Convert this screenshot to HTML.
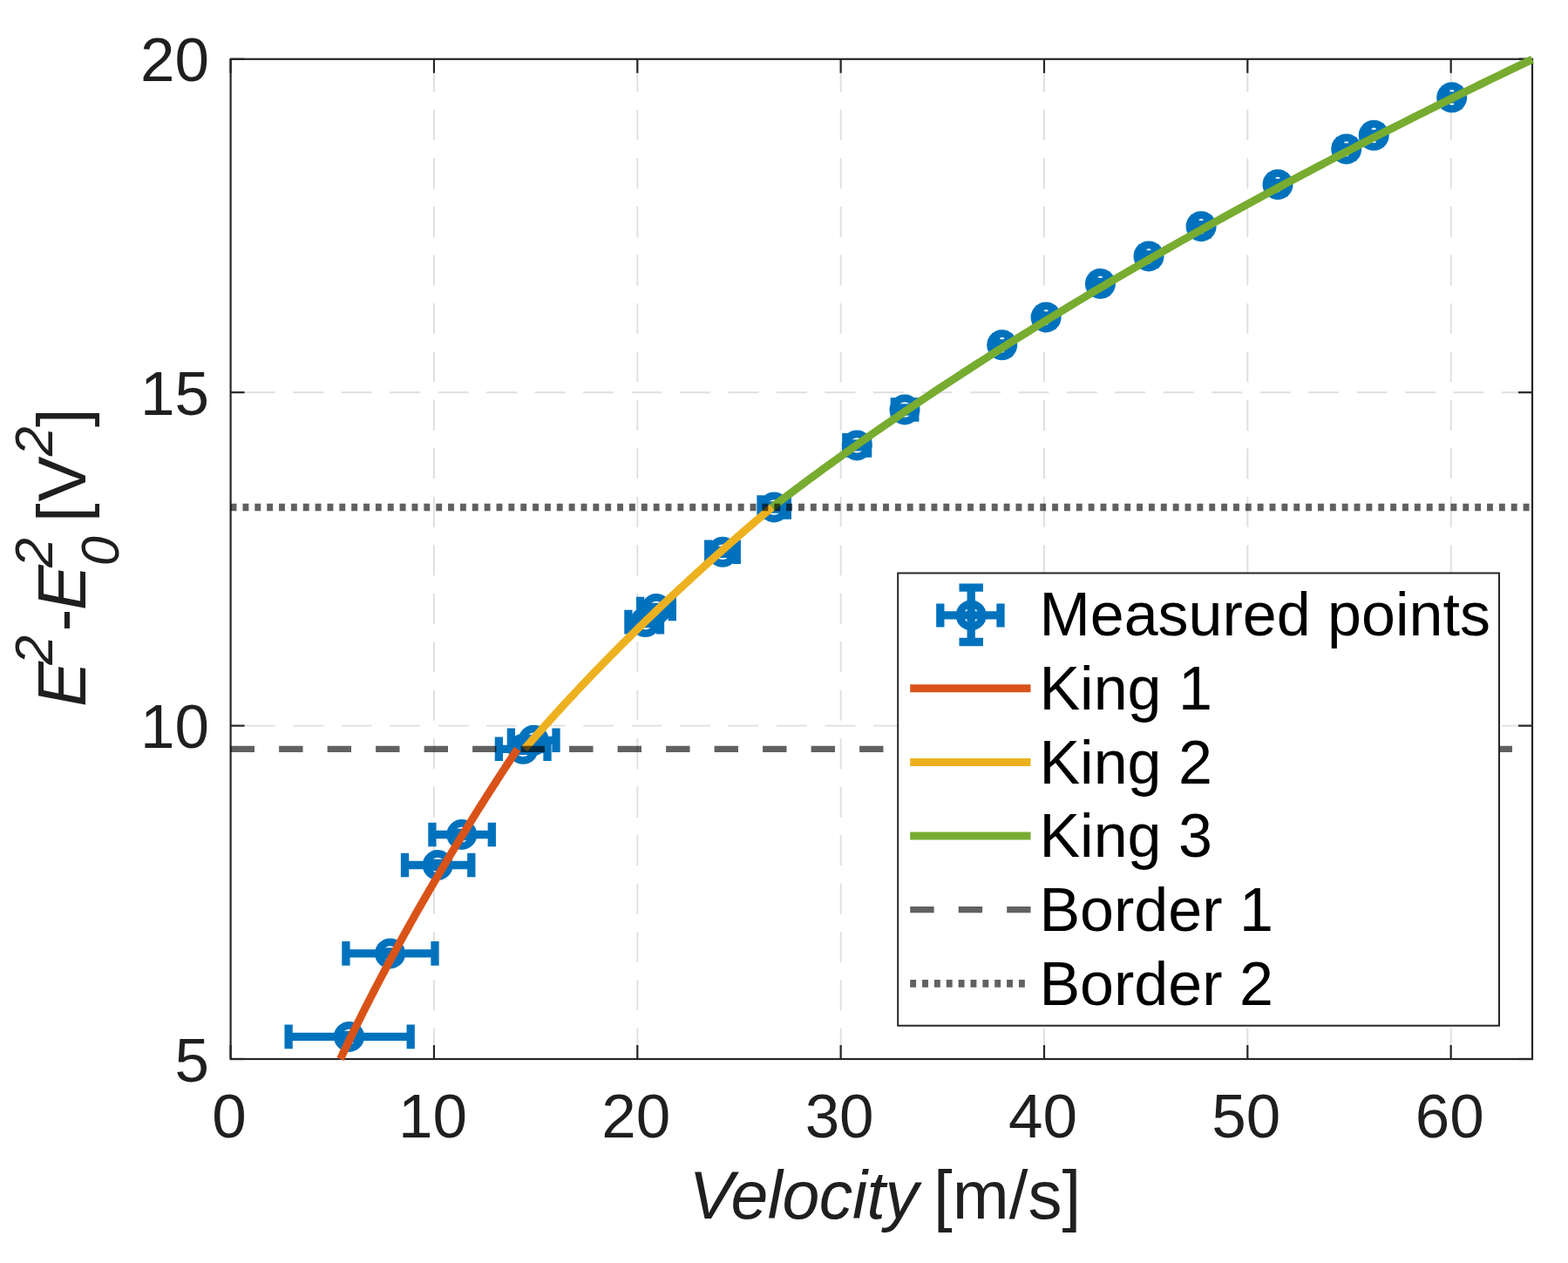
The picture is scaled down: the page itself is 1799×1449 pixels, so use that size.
<!DOCTYPE html>
<html><head><meta charset="utf-8"><title>King's law calibration</title>
<style>html,body{margin:0;padding:0;background:#fff;overflow:hidden}svg{display:block}</style>
</head><body>
<svg width="1799" height="1449" viewBox="0 0 1799 1449">
<rect width="1799" height="1449" fill="#fff"/>
<line x1="497.94" y1="1215.0" x2="497.94" y2="67.8" stroke="#dfdfdf" stroke-width="1.9" stroke-dasharray="35 20.47"/>
<line x1="731.29" y1="1215.0" x2="731.29" y2="67.8" stroke="#dfdfdf" stroke-width="1.9" stroke-dasharray="35 20.47"/>
<line x1="964.63" y1="1215.0" x2="964.63" y2="67.8" stroke="#dfdfdf" stroke-width="1.9" stroke-dasharray="35 20.47"/>
<line x1="1197.97" y1="1215.0" x2="1197.97" y2="67.8" stroke="#dfdfdf" stroke-width="1.9" stroke-dasharray="35 20.47"/>
<line x1="1431.32" y1="1215.0" x2="1431.32" y2="67.8" stroke="#dfdfdf" stroke-width="1.9" stroke-dasharray="35 20.47"/>
<line x1="1664.66" y1="1215.0" x2="1664.66" y2="67.8" stroke="#dfdfdf" stroke-width="1.9" stroke-dasharray="35 20.47"/>
<line x1="1758.0" y1="832.60" x2="264.6" y2="832.60" stroke="#dfdfdf" stroke-width="1.9" stroke-dasharray="35 20.47"/>
<line x1="1758.0" y1="450.20" x2="264.6" y2="450.20" stroke="#dfdfdf" stroke-width="1.9" stroke-dasharray="35 20.47"/>
<rect x="264.6" y="67.8" width="1493.40" height="1147.20" fill="none" stroke="#262626" stroke-width="2.2"/>
<line x1="264.60" y1="1215.0" x2="264.60" y2="1199.0" stroke="#262626" stroke-width="2.2"/>
<line x1="264.60" y1="67.8" x2="264.60" y2="83.8" stroke="#262626" stroke-width="2.2"/>
<line x1="497.94" y1="1215.0" x2="497.94" y2="1199.0" stroke="#262626" stroke-width="2.2"/>
<line x1="497.94" y1="67.8" x2="497.94" y2="83.8" stroke="#262626" stroke-width="2.2"/>
<line x1="731.29" y1="1215.0" x2="731.29" y2="1199.0" stroke="#262626" stroke-width="2.2"/>
<line x1="731.29" y1="67.8" x2="731.29" y2="83.8" stroke="#262626" stroke-width="2.2"/>
<line x1="964.63" y1="1215.0" x2="964.63" y2="1199.0" stroke="#262626" stroke-width="2.2"/>
<line x1="964.63" y1="67.8" x2="964.63" y2="83.8" stroke="#262626" stroke-width="2.2"/>
<line x1="1197.97" y1="1215.0" x2="1197.97" y2="1199.0" stroke="#262626" stroke-width="2.2"/>
<line x1="1197.97" y1="67.8" x2="1197.97" y2="83.8" stroke="#262626" stroke-width="2.2"/>
<line x1="1431.32" y1="1215.0" x2="1431.32" y2="1199.0" stroke="#262626" stroke-width="2.2"/>
<line x1="1431.32" y1="67.8" x2="1431.32" y2="83.8" stroke="#262626" stroke-width="2.2"/>
<line x1="1664.66" y1="1215.0" x2="1664.66" y2="1199.0" stroke="#262626" stroke-width="2.2"/>
<line x1="1664.66" y1="67.8" x2="1664.66" y2="83.8" stroke="#262626" stroke-width="2.2"/>
<line x1="264.6" y1="1215.00" x2="280.6" y2="1215.00" stroke="#262626" stroke-width="2.2"/>
<line x1="1758.0" y1="1215.00" x2="1742.0" y2="1215.00" stroke="#262626" stroke-width="2.2"/>
<line x1="264.6" y1="832.60" x2="280.6" y2="832.60" stroke="#262626" stroke-width="2.2"/>
<line x1="1758.0" y1="832.60" x2="1742.0" y2="832.60" stroke="#262626" stroke-width="2.2"/>
<line x1="264.6" y1="450.20" x2="280.6" y2="450.20" stroke="#262626" stroke-width="2.2"/>
<line x1="1758.0" y1="450.20" x2="1742.0" y2="450.20" stroke="#262626" stroke-width="2.2"/>
<line x1="264.6" y1="67.80" x2="280.6" y2="67.80" stroke="#262626" stroke-width="2.2"/>
<line x1="1758.0" y1="67.80" x2="1742.0" y2="67.80" stroke="#262626" stroke-width="2.2"/>
<text x="263.10" y="1305" font-family="Liberation Sans, Arial, Helvetica, sans-serif" font-size="71" fill="#1f1f1f" text-anchor="middle">0</text>
<text x="496.44" y="1305" font-family="Liberation Sans, Arial, Helvetica, sans-serif" font-size="71" fill="#1f1f1f" text-anchor="middle">10</text>
<text x="729.79" y="1305" font-family="Liberation Sans, Arial, Helvetica, sans-serif" font-size="71" fill="#1f1f1f" text-anchor="middle">20</text>
<text x="963.13" y="1305" font-family="Liberation Sans, Arial, Helvetica, sans-serif" font-size="71" fill="#1f1f1f" text-anchor="middle">30</text>
<text x="1196.47" y="1305" font-family="Liberation Sans, Arial, Helvetica, sans-serif" font-size="71" fill="#1f1f1f" text-anchor="middle">40</text>
<text x="1429.82" y="1305" font-family="Liberation Sans, Arial, Helvetica, sans-serif" font-size="71" fill="#1f1f1f" text-anchor="middle">50</text>
<text x="1663.16" y="1305" font-family="Liberation Sans, Arial, Helvetica, sans-serif" font-size="71" fill="#1f1f1f" text-anchor="middle">60</text>
<text x="240" y="1240.60" font-family="Liberation Sans, Arial, Helvetica, sans-serif" font-size="71" fill="#1f1f1f" text-anchor="end">5</text>
<text x="240" y="858.20" font-family="Liberation Sans, Arial, Helvetica, sans-serif" font-size="71" fill="#1f1f1f" text-anchor="end">10</text>
<text x="240" y="475.80" font-family="Liberation Sans, Arial, Helvetica, sans-serif" font-size="71" fill="#1f1f1f" text-anchor="end">15</text>
<text x="240" y="93.40" font-family="Liberation Sans, Arial, Helvetica, sans-serif" font-size="71" fill="#1f1f1f" text-anchor="end">20</text>
<path d="M331.1 1189.4H471.2M331.1 1175.6V1203.2M471.2 1175.6V1203.2M386.8 1187.4H414.2M386.8 1191.4H414.2M396.9 1093.9H499.0M396.9 1080.1V1107.7M499.0 1080.1V1107.7M433.9 1091.9H461.4M433.9 1095.9H461.4M464.5 992.5H540.8M464.5 978.7V1006.3M540.8 978.7V1006.3M488.4 990.5H516.0M488.4 994.5H516.0M495.9 957.5H564.3M495.9 943.7V971.3M564.3 943.7V971.3M516.0 955.5H543.5M516.0 959.5H543.5M572.4 859.3H628.0M572.4 845.5V873.1M628.0 845.5V873.1M586.5 857.3H614.0M586.5 861.3H614.0M586.4 849.3H638.0M586.4 835.5V863.1M638.0 835.5V863.1M598.5 847.3H626.0M598.5 851.3H626.0M720.9 713.6H757.5M720.9 699.8V727.4M757.5 699.8V727.4M726.8 711.6H754.2M726.8 715.6H754.2M734.6 698.5H771.3M734.6 684.7V712.3M771.3 684.7V712.3M739.2 696.5H766.8M739.2 700.5H766.8M812.7 633.3H845.3M812.7 619.5V647.1M845.3 619.5V647.1M815.2 631.3H842.8M815.2 635.3H842.8M873.0 582.0H903.3M873.0 568.2V595.8M903.3 568.2V595.8M874.4 580.0H901.9M874.4 584.0H901.9M970.8 510.9H995.6M970.8 497.1V524.7M995.6 497.1V524.7M969.5 508.9H997.0M969.5 512.9H997.0M1026.3 470.0H1049.8M1026.3 456.2V483.8M1049.8 456.2V483.8M1024.2 468.0H1051.8M1024.2 472.0H1051.8M1142.7 395.8H1156.7M1142.7 382.0V409.6M1156.7 382.0V409.6M1136.0 393.8H1163.5M1136.0 397.8H1163.5M1193.1 364.0H1207.1M1193.1 350.2V377.8M1207.1 350.2V377.8M1186.3 362.0H1213.8M1186.3 366.0H1213.8M1255.4 325.5H1269.4M1255.4 311.7V339.3M1269.4 311.7V339.3M1248.7 323.5H1276.2M1248.7 327.5H1276.2M1311.0 293.9H1325.0M1311.0 280.1V307.7M1325.0 280.1V307.7M1304.2 291.9H1331.8M1304.2 295.9H1331.8M1371.1 259.7H1385.1M1371.1 245.9V273.5M1385.1 245.9V273.5M1364.3 257.7H1391.8M1364.3 261.7H1391.8M1459.0 211.7H1473.0M1459.0 197.9V225.5M1473.0 197.9V225.5M1452.2 209.7H1479.8M1452.2 213.7H1479.8M1537.7 170.9H1551.7M1537.7 157.1V184.7M1551.7 157.1V184.7M1531.0 168.9H1558.5M1531.0 172.9H1558.5M1569.2 155.3H1583.2M1569.2 141.5V169.1M1583.2 141.5V169.1M1562.5 153.3H1590.0M1562.5 157.3H1590.0M1658.7 111.8H1672.7M1658.7 98.0V125.6M1672.7 98.0V125.6M1652.0 109.8H1679.5M1652.0 113.8H1679.5" stroke="#0072BD" stroke-width="9.3" fill="none"/>
<circle cx="400.5" cy="1189.4" r="13.1" fill="none" stroke="#0072BD" stroke-width="8.8"/>
<circle cx="447.6" cy="1093.9" r="13.1" fill="none" stroke="#0072BD" stroke-width="8.8"/>
<circle cx="502.2" cy="992.5" r="13.1" fill="none" stroke="#0072BD" stroke-width="8.8"/>
<circle cx="529.8" cy="957.5" r="13.1" fill="none" stroke="#0072BD" stroke-width="8.8"/>
<circle cx="600.2" cy="859.3" r="13.1" fill="none" stroke="#0072BD" stroke-width="8.8"/>
<circle cx="612.2" cy="849.3" r="13.1" fill="none" stroke="#0072BD" stroke-width="8.8"/>
<circle cx="740.5" cy="713.6" r="13.1" fill="none" stroke="#0072BD" stroke-width="8.8"/>
<circle cx="753.0" cy="698.5" r="13.1" fill="none" stroke="#0072BD" stroke-width="8.8"/>
<circle cx="829.0" cy="633.3" r="13.1" fill="none" stroke="#0072BD" stroke-width="8.8"/>
<circle cx="888.1" cy="582.0" r="13.1" fill="none" stroke="#0072BD" stroke-width="8.8"/>
<circle cx="983.2" cy="510.9" r="13.1" fill="none" stroke="#0072BD" stroke-width="8.8"/>
<circle cx="1038.0" cy="470.0" r="13.1" fill="none" stroke="#0072BD" stroke-width="8.8"/>
<circle cx="1149.7" cy="395.8" r="13.1" fill="none" stroke="#0072BD" stroke-width="8.8"/>
<circle cx="1200.1" cy="364.0" r="13.1" fill="none" stroke="#0072BD" stroke-width="8.8"/>
<circle cx="1262.4" cy="325.5" r="13.1" fill="none" stroke="#0072BD" stroke-width="8.8"/>
<circle cx="1318.0" cy="293.9" r="13.1" fill="none" stroke="#0072BD" stroke-width="8.8"/>
<circle cx="1378.1" cy="259.7" r="13.1" fill="none" stroke="#0072BD" stroke-width="8.8"/>
<circle cx="1466.0" cy="211.7" r="13.1" fill="none" stroke="#0072BD" stroke-width="8.8"/>
<circle cx="1544.7" cy="170.9" r="13.1" fill="none" stroke="#0072BD" stroke-width="8.8"/>
<circle cx="1576.2" cy="155.3" r="13.1" fill="none" stroke="#0072BD" stroke-width="8.8"/>
<circle cx="1665.7" cy="111.8" r="13.1" fill="none" stroke="#0072BD" stroke-width="8.8"/>
<path d="M390.49 1215.00 L392.20 1211.38 L393.91 1207.77 L395.62 1204.18 L397.32 1200.61 L399.03 1197.05 L400.74 1193.51 L402.45 1189.99 L404.15 1186.48 L405.86 1182.99 L407.57 1179.51 L409.28 1176.05 L410.98 1172.60 L412.69 1169.17 L414.40 1165.75 L416.11 1162.34 L417.81 1158.95 L419.52 1155.57 L421.23 1152.20 L422.94 1148.85 L424.64 1145.51 L426.35 1142.19 L428.06 1138.87 L429.77 1135.57 L431.47 1132.28 L433.18 1129.01 L434.89 1125.74 L436.60 1122.49 L438.30 1119.25 L440.01 1116.02 L441.72 1112.80 L443.42 1109.59 L445.13 1106.39 L446.84 1103.21 L448.55 1100.03 L450.25 1096.87 L451.96 1093.71 L453.67 1090.57 L455.38 1087.43 L457.08 1084.31 L458.79 1081.20 L460.50 1078.09 L462.21 1075.00 L463.91 1071.91 L465.62 1068.84 L467.33 1065.77 L469.04 1062.72 L470.74 1059.67 L472.45 1056.63 L474.16 1053.60 L475.87 1050.58 L477.57 1047.57 L479.28 1044.56 L480.99 1041.57 L482.70 1038.58 L484.40 1035.61 L486.11 1032.64 L487.82 1029.67 L489.53 1026.72 L491.23 1023.78 L492.94 1020.84 L494.65 1017.91 L496.36 1014.99 L498.06 1012.07 L499.77 1009.17 L501.48 1006.27 L503.19 1003.38 L504.89 1000.49 L506.60 997.62 L508.31 994.75 L510.02 991.89 L511.72 989.03 L513.43 986.18 L515.14 983.34 L516.85 980.51 L518.55 977.68 L520.26 974.86 L521.97 972.05 L523.68 969.24 L525.38 966.44 L527.09 963.65 L528.80 960.86 L530.51 958.08 L532.21 955.31 L533.92 952.54 L535.63 949.78 L537.34 947.02 L539.04 944.27 L540.75 941.53 L542.46 938.79 L544.17 936.06 L545.87 933.34 L547.58 930.62 L549.29 927.91 L551.00 925.20 L552.70 922.50 L554.41 919.80 L556.12 917.11 L557.83 914.43 L559.53 911.75 L561.24 909.08 L562.95 906.41 L564.66 903.75 L566.36 901.09 L568.07 898.44 L569.78 895.79 L571.49 893.15 L573.19 890.52 L574.90 887.89 L576.61 885.26 L578.32 882.64 L580.02 880.03 L581.73 877.42 L583.44 874.81 L585.15 872.22 L586.85 869.62 L588.56 867.03 L590.27 864.45 L591.97 861.87 L593.68 859.29" stroke="#D95319" stroke-width="9" fill="none"/>
<path d="M601.82 859.29 L604.20 856.53 L606.59 853.77 L608.98 851.03 L611.37 848.29 L613.75 845.57 L616.14 842.85 L618.53 840.15 L620.91 837.45 L623.30 834.77 L625.69 832.09 L628.07 829.42 L630.46 826.77 L632.85 824.12 L635.24 821.48 L637.62 818.85 L640.01 816.22 L642.40 813.61 L644.78 811.01 L647.17 808.41 L649.56 805.82 L651.94 803.24 L654.33 800.67 L656.72 798.11 L659.11 795.56 L661.49 793.01 L663.88 790.47 L666.27 787.94 L668.65 785.42 L671.04 782.90 L673.43 780.40 L675.82 777.90 L678.20 775.41 L680.59 772.92 L682.98 770.45 L685.36 767.98 L687.75 765.52 L690.14 763.06 L692.52 760.61 L694.91 758.17 L697.30 755.74 L699.69 753.32 L702.07 750.90 L704.46 748.48 L706.85 746.08 L709.23 743.68 L711.62 741.29 L714.01 738.91 L716.39 736.53 L718.78 734.16 L721.17 731.79 L723.56 729.43 L725.94 727.08 L728.33 724.73 L730.72 722.40 L733.10 720.06 L735.49 717.74 L737.88 715.41 L740.26 713.10 L742.65 710.79 L745.04 708.49 L747.43 706.19 L749.81 703.90 L752.20 701.62 L754.59 699.34 L756.97 697.07 L759.36 694.80 L761.75 692.54 L764.14 690.28 L766.52 688.04 L768.91 685.79 L771.30 683.55 L773.68 681.32 L776.07 679.09 L778.46 676.87 L780.84 674.65 L783.23 672.44 L785.62 670.24 L788.01 668.04 L790.39 665.84 L792.78 663.65 L795.17 661.47 L797.55 659.29 L799.94 657.11 L802.33 654.94 L804.71 652.78 L807.10 650.62 L809.49 648.46 L811.88 646.31 L814.26 644.17 L816.65 642.03 L819.04 639.90 L821.42 637.77 L823.81 635.64 L826.20 633.52 L828.58 631.40 L830.97 629.29 L833.36 627.19 L835.75 625.09 L838.13 622.99 L840.52 620.90 L842.91 618.81 L845.29 616.73 L847.68 614.65 L850.07 612.57 L852.46 610.50 L854.84 608.44 L857.23 606.38 L859.62 604.32 L862.00 602.27 L864.39 600.22 L866.78 598.17 L869.16 596.13 L871.55 594.10 L873.94 592.07 L876.33 590.04 L878.71 588.02 L881.10 586.00 L883.49 583.99 L885.87 581.98" stroke="#EDB120" stroke-width="9" fill="none"/>
<path d="M885.70 581.98 L893.03 576.38 L900.36 570.83 L907.69 565.31 L915.02 559.82 L922.35 554.36 L929.68 548.94 L937.01 543.55 L944.35 538.19 L951.68 532.87 L959.01 527.57 L966.34 522.30 L973.67 517.07 L981.00 511.86 L988.33 506.68 L995.66 501.53 L1002.99 496.41 L1010.32 491.31 L1017.65 486.24 L1024.98 481.20 L1032.31 476.18 L1039.64 471.19 L1046.97 466.23 L1054.30 461.29 L1061.63 456.37 L1068.96 451.48 L1076.29 446.61 L1083.62 441.77 L1090.95 436.95 L1098.28 432.15 L1105.61 427.38 L1112.94 422.62 L1120.27 417.89 L1127.60 413.18 L1134.93 408.50 L1142.26 403.83 L1149.59 399.19 L1156.92 394.56 L1164.25 389.96 L1171.58 385.38 L1178.91 380.81 L1186.24 376.27 L1193.57 371.74 L1200.90 367.24 L1208.23 362.75 L1215.56 358.29 L1222.89 353.84 L1230.23 349.41 L1237.56 344.99 L1244.89 340.60 L1252.22 336.22 L1259.55 331.86 L1266.88 327.52 L1274.21 323.19 L1281.54 318.89 L1288.87 314.59 L1296.20 310.32 L1303.53 306.06 L1310.86 301.82 L1318.19 297.59 L1325.52 293.38 L1332.85 289.19 L1340.18 285.01 L1347.51 280.84 L1354.84 276.69 L1362.17 272.56 L1369.50 268.44 L1376.83 264.34 L1384.16 260.25 L1391.49 256.17 L1398.82 252.11 L1406.15 248.06 L1413.48 244.03 L1420.81 240.01 L1428.14 236.00 L1435.47 232.01 L1442.80 228.03 L1450.13 224.07 L1457.46 220.12 L1464.79 216.18 L1472.12 212.25 L1479.45 208.34 L1486.78 204.44 L1494.11 200.55 L1501.44 196.67 L1508.77 192.81 L1516.11 188.96 L1523.44 185.12 L1530.77 181.29 L1538.10 177.48 L1545.43 173.68 L1552.76 169.88 L1560.09 166.10 L1567.42 162.34 L1574.75 158.58 L1582.08 154.83 L1589.41 151.10 L1596.74 147.38 L1604.07 143.67 L1611.40 139.96 L1618.73 136.27 L1626.06 132.59 L1633.39 128.93 L1640.72 125.27 L1648.05 121.62 L1655.38 117.98 L1662.71 114.36 L1670.04 110.74 L1677.37 107.13 L1684.70 103.54 L1692.03 99.95 L1699.36 96.37 L1706.69 92.80 L1714.02 89.25 L1721.35 85.70 L1728.68 82.16 L1736.01 78.63 L1743.34 75.12 L1750.67 71.61 L1758.00 68.11" stroke="#77AC30" stroke-width="9" fill="none"/>
<line x1="264.6" y1="859.29" x2="1758.0" y2="859.29" stroke="#000" stroke-opacity="0.62" stroke-width="7.3" stroke-dasharray="27.4 28.1"/>
<line x1="264.6" y1="581.98" x2="1758.0" y2="581.98" stroke="#000" stroke-opacity="0.62" stroke-width="8.6" stroke-dasharray="6.9 6.96"/>
<rect x="1030.2" y="657.5" width="689.8" height="519.2" fill="#fff" stroke="#262626" stroke-width="2"/>
<path d="M1078.8 705.9H1148M1078.8 692.4V719.4M1148 692.4V719.4M1114.2 674.2V736.5M1100.5 674.2H1127.9M1100.5 736.5H1127.9" stroke="#0072BD" stroke-width="9.3" fill="none"/>
<circle cx="1114.2" cy="705.9" r="13.1" fill="none" stroke="#0072BD" stroke-width="8.8"/>
<line x1="1044.2" y1="789.6999999999999" x2="1182.5" y2="789.6999999999999" stroke="#D95319" stroke-width="9"/>
<line x1="1044.2" y1="874.4" x2="1182.5" y2="874.4" stroke="#EDB120" stroke-width="9"/>
<line x1="1044.2" y1="959.0" x2="1182.5" y2="959.0" stroke="#77AC30" stroke-width="9"/>
<line x1="1044.2" y1="1043.7" x2="1182.5" y2="1043.7" stroke="#000" stroke-opacity="0.62" stroke-width="7.3" stroke-dasharray="27.4 28.1"/>
<line x1="1044.2" y1="1128.3999999999999" x2="1182.5" y2="1128.3999999999999" stroke="#000" stroke-opacity="0.62" stroke-width="8.6" stroke-dasharray="6.9 6.96"/>
<text x="1192.4" y="729.2" font-family="Liberation Sans, Arial, Helvetica, sans-serif" font-size="70" fill="#000">Measured points</text>
<text x="1192.4" y="813.9" font-family="Liberation Sans, Arial, Helvetica, sans-serif" font-size="70" fill="#000">King 1</text>
<text x="1192.4" y="898.6" font-family="Liberation Sans, Arial, Helvetica, sans-serif" font-size="70" fill="#000">King 2</text>
<text x="1192.4" y="983.2" font-family="Liberation Sans, Arial, Helvetica, sans-serif" font-size="70" fill="#000">King 3</text>
<text x="1192.4" y="1067.9" font-family="Liberation Sans, Arial, Helvetica, sans-serif" font-size="70" fill="#000">Border 1</text>
<text x="1192.4" y="1152.6" font-family="Liberation Sans, Arial, Helvetica, sans-serif" font-size="70" fill="#000">Border 2</text>
<text x="790.4" y="1398.4" font-family="Liberation Sans, Arial, Helvetica, sans-serif" font-size="77" font-style="italic" letter-spacing="-0.45" fill="#1f1f1f">Velocity</text>
<text x="1071.1" y="1398.4" font-family="Liberation Sans, Arial, Helvetica, sans-serif" font-size="78" fill="#1f1f1f">[m/s]</text>
<g transform="translate(98,809) rotate(-90)" font-family="Liberation Sans, Arial, Helvetica, sans-serif" fill="#1f1f1f"><text x="-2" y="0" font-size="78" font-style="italic">E</text><text x="46.2" y="-38.3" font-size="61" font-style="italic">2</text><text x="84.5" y="0" font-size="78">-</text><text x="108.8" y="0" font-size="78" font-style="italic">E</text><text x="158.1" y="-38.3" font-size="61" font-style="italic">2</text><text x="159.7" y="38.3" font-size="61" font-style="italic">0</text><text x="210" y="0" font-size="78">[</text><text x="233.6" y="0" font-size="78">V</text><text x="285.8" y="-38.3" font-size="61" font-style="italic">2</text><text x="319" y="0" font-size="78">]</text></g>
</svg>
</body></html>
